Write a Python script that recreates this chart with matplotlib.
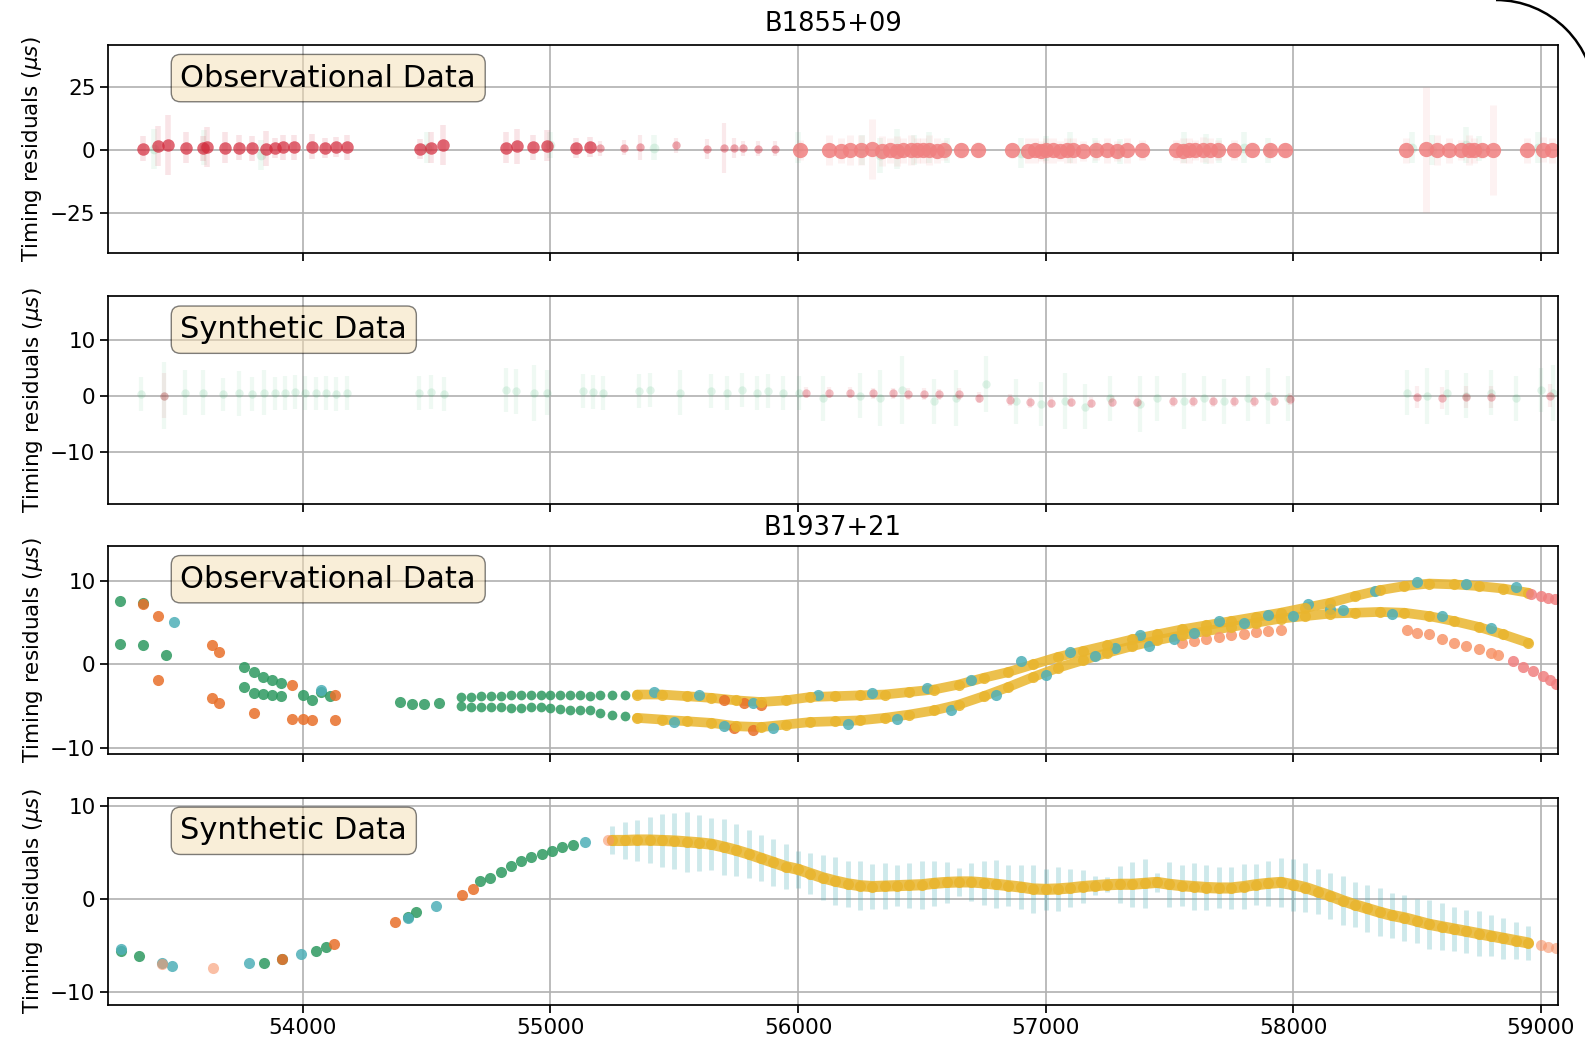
from matplotlib import pyplot as plt
from matplotlib.patches import Arc
import matplotlib
matplotlib.use("Agg")

# ---------------- B1855+09 - observacional ----------------
asp_mjd = [53353, 53414, 53454, 53527, 53595, 53611, 53684, 53743, 53796, 53850, 53886, 53918, 53963,
           54036, 54088, 54132, 54177, 54471, 54516, 54564, 54819, 54863, 54928, 54984, 55105, 55158]
asp_res = [0.5, 1.5, 2.0, 1.0, 0.8, 1.2, 1.0, 0.9, 0.8, 0.6, 1.0, 1.1, 1.2,
           1.3, 1.0, 1.1, 1.2, 0.6, 1.0, 2.0, 1.0, 1.5, 1.2, 1.8, 1.0, 1.2]
asp_err = [5, 8, 12, 6, 5, 8, 6, 5, 5, 7, 4, 5, 5, 5, 4, 4, 5, 4, 6, 8, 6, 7, 5, 6, 4, 4]

asp2_mjd = [55199, 55298, 55360, 55506, 55631, 55700, 55740, 55776, 55837, 55905]
asp2_res = [0.8, 1.0, 1.2, 2.0, 0.5, 0.8, 1.0, 0.8, 0.6, 0.5]
asp2_err = [3, 3, 5, 3, 4, 10, 4, 3, 3, 3]

puppi_mjd = [56010, 56127, 56172, 56212, 56253, 56297, 56340, 56370, 56400, 56426, 56455, 56479, 56505, 56531,
             56560, 56588, 56657, 56729, 56863, 56930, 56956, 56980, 57000, 57030, 57057, 57085, 57109, 57150,
             57202, 57247, 57290, 57328, 57388, 57526, 57555, 57578, 57605, 57635, 57665, 57695, 57760, 57833,
             57905, 57966, 58458, 58539, 58583, 58632, 58680, 58710, 58733, 58765, 58806, 58947, 59008, 59048]
puppi_res = [0.2, 0.0, -0.2, 0.0, 0.0, 0.3, -0.3, 0.0, -0.2, 0.0, 0.2, -0.1, 0.0, 0.0,
             -0.2, 0.0, 0.0, 0.2, 0.0, -0.3, 0.0, -0.2, 0.0, 0.0, -0.3, 0.0, 0.0, -0.2,
             0.0, 0.0, -0.2, 0.0, 0.0, 0.0, -0.2, 0.0, 0.0, 0.2, 0.0, 0.0, 0.0, 0.2,
             0.0, 0.0, 0.0, 0.3, 0.0, 0.0, 0.2, 0.0, 0.0, 0.0, 0.0, 0.0, 0.2, 0.0]
puppi_err = [4, 6, 5, 6, 6, 12, 6, 5, 6, 5, 6, 5, 5, 6,
             5, 4, 3, 3, 3, 5, 5, 4, 5, 5, 4, 5, 5, 4,
             4, 5, 4, 5, 4, 4, 5, 5, 4, 5, 5, 4, 4, 3,
             3, 3, 5, 25, 6, 5, 4, 6, 5, 3, 18, 5, 5, 5]

gasp_mjd = [53400, 53600, 53830, 54500, 55000, 55420, 56000, 56260, 56330, 56400, 56470, 56530, 56600,
            56900, 57000, 57100, 57200, 57300, 57560, 57650, 57700, 57800, 57900, 58480, 58560, 58700,
            58750, 58990]
gasp_res = [0.5, 1.0, -2.0, 1.0, 2.0, 1.0, 1.0, 0.0, -2.0, 0.5, 0.0, 1.0, 0.0,
            -1.0, 0.5, 1.0, 0.0, -0.5, 1.0, 0.5, 0.0, 1.0, 0.0, 1.0, 0.0, 2.0,
            0.5, 1.0]
gasp_err = [8, 7, 6, 6, 5, 5, 6, 6, 7, 8, 6, 6, 5,
            6, 5, 6, 5, 5, 6, 6, 5, 6, 5, 6, 6, 7,
            5, 6]

# ---------------- B1855+09 - sintetico ----------------
syn55_g_mjd = [53346, 53440, 53523, 53595, 53678, 53741, 53793, 53844, 53886, 53927, 53969, 54010, 54052,
               54093, 54135, 54176, 54467, 54519, 54571, 54819, 54861, 54934, 54985, 55131, 55172, 55214,
               55359, 55400, 55525, 55649, 55712, 55774, 55836, 55878, 55940, 56002, 56100, 56250, 56330,
               56420, 56550, 56640, 56760, 56880, 56980, 57080, 57160, 57260, 57380, 57450, 57560, 57640,
               57720, 57820, 57900, 57980, 58460, 58540, 58620, 58700, 58800, 58900, 59000, 59050]
syn55_g_res = [0.3, 0.0, 0.5, 0.5, 0.2, 0.4, 0.3, 0.5, 0.4, 0.5, 0.6, 0.5, 0.4,
               0.5, 0.3, 0.5, 0.5, 0.6, 0.3, 1.0, 0.8, 0.5, 0.5, 0.8, 0.6, 0.5,
               0.8, 1.0, 0.5, 0.8, 0.5, 1.0, 0.5, 0.8, 0.5, 0.5, -0.5, 0.0, -0.5,
               1.0, -1.0, -0.5, 2.0, -1.0, -1.5, -1.0, -2.0, -0.5, -1.5, -0.5, -1.0, -0.5,
               -1.0, -0.5, 0.0, -0.5, 0.5, 0.0, 0.5, 0.0, 0.5, -0.5, 1.0, 0.5]
syn55_g_err = [3, 6, 4, 4, 3, 4, 3, 4, 3, 3, 3, 3, 3,
               3, 3, 3, 3, 3, 3, 4, 4, 5, 4, 3, 3, 3,
               3, 3, 4, 3, 3, 3, 3, 3, 3, 3, 4, 4, 5,
               6, 4, 5, 5, 4, 4, 5, 4, 4, 5, 4, 5, 4,
               4, 4, 5, 4, 4, 5, 4, 4, 4, 4, 4, 5]

syn55_r_mjd = [53440, 56034, 56126, 56209, 56301, 56383, 56445, 56507, 56568, 56651, 56733, 56856, 56938,
               57021, 57103, 57185, 57267, 57370, 57514, 57596, 57678, 57760, 57843, 57925, 57987, 58500,
               58600, 58700, 58800, 59040]
syn55_r_res = [0.0, 0.5, 0.5, 0.5, 0.4, 0.4, 0.3, 0.3, 0.2, 0.3, -0.4, -0.8, -1.2,
               -1.3, -1.1, -1.3, -1.1, -1.1, -1.0, -1.0, -1.0, -1.0, -1.0, -0.9, -0.6, -0.3,
               -0.4, -0.2, -0.3, 0.0]
syn55_r_err = [4, 1, 1, 1, 1, 1, 1, 1, 1, 1, 1, 1, 1,
               1, 1, 1, 1, 1, 1, 1, 1, 1, 1, 1, 1, 2,
               2, 2, 2, 2]

# ---------------- B1937+21 - observacional ----------------
obs37_green_mjd = [53262, 53262, 53353, 53353, 53446, 53763, 53803, 53839, 53875, 53912, 53763, 53803, 53839,
                   53875, 53912, 54002, 54038, 54074, 54110, 54393, 54440, 54490, 54548]
obs37_green_res = [7.6, 2.5, 7.4, 2.3, 1.1, -0.3, -0.9, -1.5, -1.9, -2.25, -2.65, -3.4, -3.5,
                   -3.6, -3.8, -3.6, -4.2, -3.3, -3.8, -4.5, -4.7, -4.7, -4.6]
obs37_orange_mjd = [53353, 53416, 53416, 53632, 53659, 53632, 53659, 53803, 53956, 53956, 54002, 54038,
                    54131, 54131, 55700, 55780, 55850, 55740, 55820]
obs37_orange_res = [7.2, 5.85, -1.86, 2.3, 1.5, -4.0, -4.6, -5.8, -2.45, -6.5, -6.5, -6.6,
                    -3.6, -6.7, -4.3, -4.6, -4.8, -7.6, -7.9]
obs37_teal_early_mjd = [53478, 54074]
obs37_teal_early_res = [5.06, -3.0]

green_track_mjd = [54640, 54680, 54720, 54760, 54800, 54840, 54880, 54920, 54960, 55000, 55040, 55080,
                   55120, 55160, 55200, 55250, 55300]
green_track_up = [-3.9, -3.9, -3.8, -3.8, -3.8, -3.7, -3.7, -3.7, -3.6, -3.6, -3.6, -3.7,
                  -3.7, -3.8, -3.7, -3.7, -3.6]
green_track_low = [-5.0, -5.1, -5.1, -5.1, -5.1, -5.2, -5.2, -5.1, -5.1, -5.2, -5.3, -5.4,
                   -5.4, -5.5, -5.8, -6.0, -6.2]

gold_mjd = [55350, 55450, 55550, 55650, 55750, 55850, 55950, 56050, 56150, 56250, 56350, 56450, 56550,
            56650, 56750, 56850, 56950, 57050, 57150, 57250, 57350, 57450, 57550, 57650, 57750, 57850,
            57950, 58050, 58150, 58250, 58350, 58450, 58550, 58650, 58750, 58850, 58950]
gold_up = [-3.6, -3.6, -3.8, -4.0, -4.3, -4.5, -4.3, -3.9, -3.8, -3.7, -3.6, -3.3, -3.0,
           -2.4, -1.6, -0.9, 0.0, 0.9, 1.6, 2.3, 3.0, 3.6, 4.2, 4.7, 5.2, 5.7,
           6.2, 6.8, 7.4, 8.2, 8.9, 9.4, 9.7, 9.6, 9.4, 9.1, 8.6]
gold_low = [-6.4, -6.6, -6.8, -7.0, -7.4, -7.5, -7.2, -6.9, -6.8, -6.7, -6.4, -6.0, -5.5,
            -4.8, -3.8, -2.7, -1.5, -0.4, 0.5, 1.4, 2.2, 2.9, 3.5, 4.0, 4.5, 5.0,
            5.5, 5.8, 6.1, 6.2, 6.3, 6.2, 5.8, 5.2, 4.5, 3.6, 2.6]

teal37_mjd = [55420, 55600, 55820, 56080, 56300, 56520, 56700, 56900, 57100, 57280, 57380, 57520, 57700,
              57900, 58060, 58200, 58330, 58500, 58700, 58900,
              55500, 55700, 55900, 56200, 56400, 56620, 56800, 57000, 57200, 57420, 57600, 57800, 58000,
              58150, 58400, 58600, 58800]
teal37_res = [-3.3, -3.6, -4.6, -3.6, -3.4, -2.8, -1.8, 0.4, 1.5, 2.0, 3.5, 3.0, 5.2,
              5.9, 7.2, 6.5, 8.8, 9.9, 9.7, 9.3,
              -6.9, -7.4, -7.6, -7.1, -6.5, -5.4, -3.6, -1.3, 1.0, 2.2, 3.8, 5.0, 5.8,
              6.6, 6.0, 5.8, 4.4]

salmon37_mjd = [57550, 57600, 57650, 57700, 57750, 57800, 57850, 57900, 57950,
                58460, 58500, 58550, 58600, 58650, 58700, 58750, 58800, 58830]
salmon37_res = [2.6, 2.8, 3.0, 3.3, 3.5, 3.7, 3.9, 4.0, 4.1,
                4.1, 3.8, 3.6, 3.0, 2.6, 2.2, 1.8, 1.4, 1.1]

pink37_mjd = [58960, 59000, 59030, 59060, 58890, 58930, 58970, 59010, 59040, 59064]
pink37_res = [8.4, 8.2, 8.0, 7.9, 0.4, -0.3, -0.8, -1.4, -1.9, -2.3]

# ---------------- B1937+21 - sintetico ----------------
syn37_green_mjd = [53263, 53336, 53844, 53917, 54052, 54093, 54425, 54456, 54716, 54757, 54799, 54840,
                   54882, 54923, 54965, 55006, 55048, 55089]
syn37_green_res = [-5.6, -6.1, -6.8, -6.45, -5.55, -5.1, -1.9, -1.4, 2.0, 2.3, 2.9, 3.6,
                   4.1, 4.55, 4.9, 5.2, 5.55, 5.85]
syn37_teal_mjd = [53263, 53429, 53471, 53782, 53990, 54425, 54539, 55141]
syn37_teal_res = [-5.4, -6.9, -7.2, -6.9, -5.9, -2.0, -0.7, 6.1]
syn37_orange_mjd = [53917, 54124, 54373, 54643, 54685]
syn37_orange_res = [-6.45, -4.8, -2.5, 0.5, 1.1]
syn37_salmon_mjd = [53429, 53637, 55234, 59000, 59030, 59061]
syn37_salmon_res = [-7.0, -7.35, 6.3, -4.95, -5.1, -5.25]

curve_mjd = [55250, 55300, 55350, 55400, 55450, 55500, 55550, 55600, 55650, 55700, 55750, 55800, 55850,
             55900, 55950, 56000, 56050, 56100, 56150, 56200, 56250, 56300, 56350, 56400, 56450, 56500,
             56550, 56600, 56650, 56700, 56750, 56800, 56850, 56900, 56950, 57000, 57050, 57100, 57150,
             57200, 57250, 57300, 57350, 57400, 57450, 57500, 57550, 57600, 57650, 57700, 57750, 57800,
             57850, 57900, 57950, 58000, 58050, 58100, 58150, 58200, 58250, 58300, 58350, 58400, 58450,
             58500, 58550, 58600, 58650, 58700, 58750, 58800, 58850, 58900, 58950]
curve_res = [6.3, 6.3, 6.35, 6.35, 6.3, 6.25, 6.15, 6.05, 5.9, 5.6, 5.25, 4.85, 4.4,
             3.95, 3.5, 3.2, 2.75, 2.3, 1.95, 1.65, 1.45, 1.35, 1.4, 1.45, 1.5, 1.55,
             1.7, 1.8, 1.85, 1.85, 1.75, 1.6, 1.45, 1.3, 1.1, 1.05, 1.1, 1.2, 1.35,
             1.45, 1.55, 1.6, 1.6, 1.7, 1.8, 1.6, 1.45, 1.35, 1.25, 1.2, 1.2, 1.35,
             1.55, 1.7, 1.8, 1.55, 1.25, 0.8, 0.35, -0.15, -0.6, -1.0, -1.4, -1.75, -2.0,
             -2.35, -2.7, -2.95, -3.2, -3.45, -3.7, -3.95, -4.2, -4.45, -4.7]
curve_err = [1.5, 2.0, 2.2, 2.5, 2.8, 3.0, 3.2, 3.0, 2.8, 3.0, 2.8, 2.6, 2.5,
             2.5, 2.4, 2.0, 2.2, 2.4, 2.6, 2.5, 2.6, 2.4, 2.5, 2.2, 2.4, 2.6,
             2.4, 2.2, 1.5, 2.0, 2.4, 2.6, 2.2, 2.4, 2.6, 2.2, 2.4, 2.0, 1.8,
             1.0, 0.8, 2.0, 2.4, 2.6, 1.0, 2.4, 2.2, 2.5, 2.4, 2.2, 2.3, 2.4,
             2.2, 2.4, 2.6, 2.8, 2.6, 2.4, 2.5, 2.6, 2.4, 2.5, 2.6, 2.4, 2.5,
             2.4, 2.6, 2.5, 2.4, 2.3, 2.4, 2.2, 2.2, 2.0, 1.8]

x_ticks = [54000, 55000, 56000, 57000, 58000, 59000]

ROJO = '#d3293b'
ROSA = '#f08080'
VERDE_CLARO = '#3cb371'
VERDE = '#2e9960'
NARANJA = '#e8702a'
TEAL = '#4fb0b8'
ORO = '#e9b52e'
SALMON = '#f7956a'


def nube(ax, x, y, e, color, alpha_err, alpha_pt, ms, lw=4):
    ax.errorbar(x, y, yerr=e, fmt='none', ecolor=color, elinewidth=lw, alpha=alpha_err)
    ax.plot(x, y, 'o', color=color, ms=ms, alpha=alpha_pt, mec='none')


def puntos(ax, x, y, color, ms=7, alpha=0.85):
    ax.plot(x, y, 'o', color=color, ms=ms, alpha=alpha, mec='none')


fig = plt.figure(figsize=(15.85, 10.44), dpi=100)
izq, ancho, alto = 0.0681, 0.9148, 0.199
bottoms = [0.758, 0.517, 0.278, 0.037]
axs = []
for b in bottoms:
    ax = fig.add_axes([izq, b, ancho, alto], sharex=axs[0] if axs else None)
    axs.append(ax)

# panel 1
ax = axs[0]
nube(ax, gasp_mjd, gasp_res, gasp_err, VERDE_CLARO, 0.08, 0.15, 7)
nube(ax, asp_mjd, asp_res, asp_err, ROJO, 0.12, 0.7, 9)
nube(ax, asp2_mjd, asp2_res, asp2_err, ROJO, 0.1, 0.4, 6, lw=3)
nube(ax, puppi_mjd, puppi_res, puppi_err, ROSA, 0.1, 0.85, 11, lw=5)
ax.set_ylim(-41, 42)
ax.set_yticks([-25, 0, 25])
ax.set_title('B1855+09', fontsize=18.5, pad=10)

# panel 2
ax = axs[1]
nube(ax, syn55_g_mjd, syn55_g_res, syn55_g_err, VERDE_CLARO, 0.08, 0.15, 6, lw=3)
nube(ax, syn55_r_mjd, syn55_r_res, syn55_r_err, ROJO, 0.08, 0.3, 6, lw=3)
ax.set_ylim(-19.4, 17.7)
ax.set_yticks([-10, 0, 10])

# panel 3
ax = axs[2]
ax.plot(gold_mjd, gold_up, '-', color=ORO, lw=7, alpha=0.85, solid_capstyle='round')
ax.plot(gold_mjd, gold_low, '-', color=ORO, lw=7, alpha=0.85, solid_capstyle='round')
puntos(ax, green_track_mjd, green_track_up, VERDE)
puntos(ax, green_track_mjd, green_track_low, VERDE)
puntos(ax, obs37_green_mjd, obs37_green_res, VERDE, ms=8)
puntos(ax, obs37_orange_mjd, obs37_orange_res, NARANJA, ms=8)
puntos(ax, obs37_teal_early_mjd, obs37_teal_early_res, TEAL, ms=8)
puntos(ax, salmon37_mjd, salmon37_res, SALMON, ms=8)
puntos(ax, teal37_mjd, teal37_res, TEAL, ms=8)
puntos(ax, gold_mjd, gold_up, ORO, ms=8)
puntos(ax, gold_mjd, gold_low, ORO, ms=8)
puntos(ax, pink37_mjd, pink37_res, ROSA, ms=8)
ax.set_ylim(-10.7, 14.2)
ax.set_yticks([-10, 0, 10])
ax.set_title('B1937+21', fontsize=18.5, pad=8)

# panel 4
ax = axs[3]
ax.errorbar(curve_mjd, curve_res, yerr=curve_err, fmt='none', ecolor=TEAL, elinewidth=3.5, alpha=0.28)
ax.plot(curve_mjd, curve_res, '-', color=ORO, lw=8, alpha=0.85, solid_capstyle='round')
puntos(ax, curve_mjd, curve_res, ORO, ms=8)
puntos(ax, syn37_green_mjd, syn37_green_res, VERDE, ms=8)
puntos(ax, syn37_teal_mjd, syn37_teal_res, TEAL, ms=8)
puntos(ax, syn37_orange_mjd, syn37_orange_res, NARANJA, ms=8)
puntos(ax, syn37_salmon_mjd, syn37_salmon_res, SALMON, ms=8, alpha=0.6)
ax.set_ylim(-11.4, 10.9)
ax.set_yticks([-10, 0, 10])

etiquetas = ['Observational Data', 'Synthetic Data', 'Observational Data', 'Synthetic Data']
for ax, etiqueta in zip(axs, etiquetas):
    ax.text(0.05, 0.91, etiqueta, transform=ax.transAxes, fontsize=22, va='top',
            bbox=dict(boxstyle='round', facecolor='wheat', alpha=0.5))
    ax.grid(True, color='#b0b0b0', lw=1.2)
    ax.set_axisbelow(True)
    ax.set_ylabel(r'Timing residuals ($\mu s$)', fontsize=15.5)
    ax.tick_params(labelsize=15.5, length=5.5, width=1.25)
    for s in ax.spines.values():
        s.set_linewidth(1.25)
    ax.set_xlim(53212, 59070)
    ax.set_xticks(x_ticks)
for ax in axs[:3]:
    ax.tick_params(labelbottom=False)
fig.align_ylabels(axs)

# borde redondeado de la captura (esquina superior derecha)
W, H = 1585, 1044
borde = Arc((1496 / W, 1 - 99 / H), 2 * 99 / W, 2 * 99 / H, theta1=0, theta2=90,
            transform=fig.transFigure, color='black', lw=1.8)
fig.add_artist(borde)

fig.savefig('out.png', dpi=100)
